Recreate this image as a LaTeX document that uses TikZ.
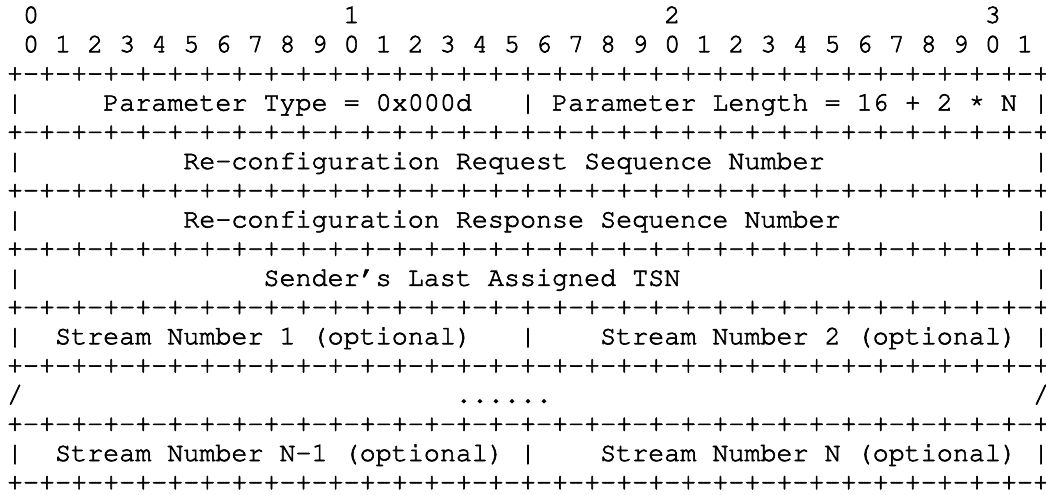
\documentclass[tikz,border=0pt]{standalone}
\usepackage[T1]{fontenc}
\usepackage{courier}
\tikzset{
%one run of ascii text, set on its baseline
ascii/.style={anchor=base west, inner sep=0pt, outer sep=0pt,
  font=\ttfamily\fontsize{26.72pt}{29.2pt}\selectfont\frenchspacing,
  execute at begin node={\special{pdf:literal direct 2 Tr 0.6 w}}},
}
% the +-+-...+ line between two rows
\newcommand{\rfcrule}{+\foreach \i in {1,...,32}{-+}}

\begin{document}
\begin{tikzpicture}[x=16.03pt, y=-29.2pt]

% one unit = one character, one line
\useasboundingbox (-0.4367,-0.7877) rectangle (64.815,16.130);

% bit ruler
\foreach \d in {0,...,3}
  \node[ascii] (dec\d) at ({1+20*\d},0) {\d};
\foreach \b in {0,...,31}{
  \pgfmathtruncatemacro{\u}{mod(\b,10)}
  \node[ascii] (bit\b) at ({1+2*\b},1) {\u};
}

% separators
\foreach \r in {2,4,...,16}
  \node[ascii] (rule\r) at (0,\r) {\rfcrule};

% side bars
\foreach \r in {3,5,7,9,11,15}{
  \node[ascii] (lbar\r) at (0,\r) {|};
  \node[ascii] (rbar\r) at (64,\r) {|};
}
\foreach \r in {3,11,15}
  \node[ascii] (mbar\r) at (32,\r) {|};
\node[ascii] (lcut) at (0,13) {/};
\node[ascii] (rcut) at (64,13) {/};

% header
\node[ascii] (ptype) at (6,3) {Parameter Type = 0x000d};
\node[ascii] (plen) at (34,3) {Parameter Length = 16 + 2 \raisebox{.3ex}{*} N};

% sequence numbers
\node[ascii] (reqsn) at (11,5) {Re-configuration Request Sequence Number};
\node[ascii] (respsn) at (11,7) {Re-configuration Response Sequence Number};
\node[ascii] (lasttsn) at (16,9) {Sender's Last Assigned TSN};

% stream list
\node[ascii] (sn1) at (3,11) {Stream Number 1 (optional)};
\node[ascii] (sn2) at (37,11) {Stream Number 2 (optional)};
\node[ascii] (dots) at (28,13) {......};
\node[ascii] (snn1) at (3,15) {Stream Number N-1 (optional)};
\node[ascii] (snn) at (37,15) {Stream Number N (optional)};

\end{tikzpicture}
\end{document}
